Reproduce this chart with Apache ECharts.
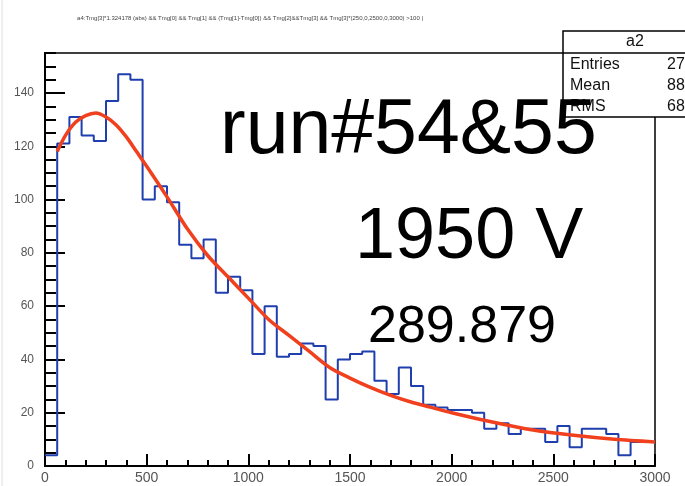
<!DOCTYPE html>
<html><head><meta charset="utf-8">
<script src="https://cdn.jsdelivr.net/npm/echarts@6/dist/echarts.min.js"></script>
<style>html,body{margin:0;padding:0;background:#fff}#c{width:685px;height:486px}</style>
</head><body><div id="c"></div>
<script>
// ---- data ----
const binWidth = 60;
const counts = [4,121,131,124,122,137,147,145,100,105,99,83,78,85,65,71,66,42,60,41,42,46,45,25,40,42,43,32,27,37,30,23,22,21,21,20,14,16,12,14,14,9,15,7,14,14,12,4,9,9];
const fitX = [60,100,150,200,250,300,350,400,450,500,600,700,800,900,1000,1100,1200,1300,1400,1500,1600,1700,1800,1900,2000,2200,2400,2600,2800,3000];
const fitY = [118,124,129,131.5,132.5,131,128,123.5,118,112.5,101,89,79,71,63,55,49,43,37,33,29.5,26.5,24,22,20,16.5,13.5,11.5,10,9];
const xTicks = [0,500,1000,1500,2000,2500,3000];
const yTicks = [0,20,40,60,80,100,120,140];
const titleText = 'a4:Tmg[3]*1.324178 (abs) && Tmg[0] && Tmg[1] && (Tmg[1]-Tmg[0]) && Tmg[2]&&Tmg[3] && Tmg[3]*(250,0,2500,0,3000) >100 |';
const statsName = 'a2';
const statsRows = [['Entries','2745'],['Mean','886.3'],['RMS','686.1']];
const bigTexts = ['run#54&55','1950 V','289.879'];

const histData = counts.map((c,i)=>[i*binWidth, c]);
histData.push([counts.length*binWidth, counts[counts.length-1]]);
const fitData = fitX.map((x,i)=>[x, fitY[i]]);

const chart = echarts.init(document.getElementById('c'), null, {renderer:'canvas'});
const gl = 45, gt = 53, gw = 610, gh = 413;
chart.setOption({
  animation:false,
  backgroundColor:'#fff',
  grid:{left:gl, top:gt, width:gw, height:gh, show:true, borderColor:'#000', borderWidth:1.5, backgroundColor:'transparent'},
  xAxis:{type:'value', min:0, max:3000, interval:500,
    axisLine:{lineStyle:{color:'#000', width:2}},
    axisTick:{inside:true, length:12, lineStyle:{color:'#000', width:2}},
    minorTick:{show:true, splitNumber:5, length:6, lineStyle:{color:'#000', width:2}},
    splitLine:{show:false}, minorSplitLine:{show:false},
    axisLabel:{fontFamily:'Liberation Sans', fontSize:14, color:'#555', margin:5,
      formatter:v=> xTicks.includes(v)? String(v):''}},
  yAxis:[
    {type:'value', min:0, max:155, interval:5, position:'left',
     axisLine:{show:true, lineStyle:{color:'#000', width:2}},
     axisTick:{inside:true, length:11, lineStyle:{color:'#000', width:2}},
     axisLabel:{show:false}, splitLine:{show:false}},
    {type:'value', min:0, max:155, interval:20, position:'left',
     axisLine:{show:true, lineStyle:{color:'#000', width:2}},
     axisTick:{inside:true, length:20, lineStyle:{color:'#000', width:2}},
     axisLabel:{fontFamily:'Liberation Sans', fontSize:12, color:'#555', margin:11, showMaxLabel:false,
       formatter:v=> yTicks.includes(v)? String(v):''},
     splitLine:{show:false}}
  ],
  series:[
    {type:'line', data:histData, step:'end', yAxisIndex:0, showSymbol:false, symbol:'none',
     lineStyle:{color:'#1f3fae', width:2}, z:2},
    {type:'line', data:fitData, smooth:0.3, yAxisIndex:0, showSymbol:false, symbol:'none',
     lineStyle:{color:'#f0401e', width:3.5}, z:3}
  ],
  graphic:[
    {type:'line', shape:{x1:2, y1:0, x2:2, y2:486}, style:{stroke:'#ddd', lineWidth:1}, z:0},
    {type:'text', style:{x:250, y:18, text:titleText, fontFamily:'Liberation Sans', fontSize:6, fill:'#444', textAlign:'center', textVerticalAlign:'middle'}},
    {type:'rect', shape:{x:563, y:31, width:140, height:86}, style:{fill:'#fff', stroke:'#000', lineWidth:1.5}, z:10},
    {type:'line', shape:{x1:563, y1:53, x2:690, y2:53}, style:{stroke:'#000', lineWidth:1.5}, z:11},
    {type:'text', style:{x:635, y:42, text:statsName, fontFamily:'Liberation Sans', fontSize:16, fill:'#111', textAlign:'center', textVerticalAlign:'middle'}, z:11},
    ...statsRows.map((r,i)=>({type:'text', style:{x:570, y:65+i*21, text:r[0], fontFamily:'Liberation Sans', fontSize:16, fill:'#111', textAlign:'left', textVerticalAlign:'middle'}, z:11})),
    ...statsRows.map((r,i)=>({type:'text', style:{x:667, y:65+i*21, text:r[1], fontFamily:'Liberation Sans', fontSize:16, fill:'#111', textAlign:'left', textVerticalAlign:'middle'}, z:11})),
    {type:'text', style:{x:220, y:132, text:bigTexts[0], fontFamily:'Liberation Sans', fontSize:77, fill:'#000', textAlign:'left', textVerticalAlign:'middle'}, z:12},
    {type:'text', style:{x:355, y:238, text:bigTexts[1], fontFamily:'Liberation Sans', fontSize:72, fill:'#000', textAlign:'left', textVerticalAlign:'middle'}, z:12},
    {type:'text', style:{x:368, y:328, text:bigTexts[2], fontFamily:'Liberation Sans', fontSize:52, fill:'#000', textAlign:'left', textVerticalAlign:'middle'}, z:12}
  ]
});
</script></body></html>
